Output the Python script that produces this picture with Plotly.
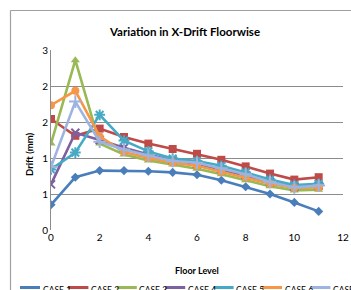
import plotly.graph_objects as go

floors = list(range(12))
case1 = [0.42, 0.88, 0.99, 0.99, 0.98, 0.96, 0.92, 0.83, 0.72, 0.60, 0.46, 0.31]
case2 = [1.85, 1.57, 1.69, 1.55, 1.44, 1.35, 1.27, 1.17, 1.06, 0.94, 0.84, 0.88]
case3 = [1.44, 2.83, 1.44, 1.26, 1.16, 1.09, 1.02, 0.93, 0.83, 0.73, 0.66, 0.67]
case4 = [0.76, 1.62, 1.50, 1.37, 1.26, 1.16, 1.10, 1.01, 0.91, 0.80, 0.72, 0.74]
case5 = [1.01, 1.29, 1.92, 1.49, 1.31, 1.19, 1.15, 1.07, 0.96, 0.84, 0.75, 0.77]
case6 = [2.08, 2.32, 1.56, 1.30, 1.20, 1.12, 1.07, 0.97, 0.88, 0.77, 0.70, 0.71]
case7 = [1.05, 2.14, 1.47, 1.34, 1.24, 1.15, 1.12, 1.03, 0.93, 0.80, 0.71, 0.74]

names = ["CASE 1", "CASE 2", "CASE 3", "CASE 4", "CASE 5", "CASE 6", "CASE 7"]
series = [case1, case2, case3, case4, case5, case6, case7]
colors = ["#4A7EBB", "#BE4B48", "#98B954", "#7D60A0", "#46AAC5", "#F79646", "#9DB3E0"]
symbols = ["diamond", "square", "triangle-up", "x-thin-open", "asterisk-open", "circle", "cross-thin-open"]
sizes = [7, 8, 8, 8, 9, 8, 9]

y_tickvals = [0, 0.6, 1.2, 1.8, 2.4, 3.0]
y_ticktext = ["0", "1", "1", "2", "2", "3"]
x_tickvals = [0, 2, 4, 6, 8, 10, 12]

W, H = 351, 290
L, R, T, B = 51, 8, 50, 60
PW, PH = W - L - R, H - T - B


def px(x):
    return (x - L) / PW


def py(y):
    return (H - B - y) / PH


FONT = "Lato"
fig = go.Figure()
for name, vals, col, sym, sz in zip(names, series, colors, symbols, sizes):
    fig.add_trace(go.Scatter(
        x=floors, y=vals, name=name, mode="lines+markers",
        line=dict(color=col, width=2.6),
        marker=dict(symbol=sym, size=sz, color=col, line=dict(color=col, width=2 if "open" in sym else 0)),
        showlegend=False,
    ))

frame = dict(color="#A0A0A0", width=1.2)
shapes = [
    dict(type="line", xref="paper", yref="paper", x0=px(10.5), x1=px(10.5), y0=py(290), y1=py(10.5), line=frame),
    dict(type="line", xref="paper", yref="paper", x0=px(10.5), x1=px(351), y0=py(10.5), y1=py(10.5), line=frame),
]
annotations = [
    dict(text="<b>Variation in X-Drift Floorwise</b>", xref="paper", yref="paper", x=px(184), y=py(32),
         showarrow=False, font=dict(family=FONT, size=11.5, color="#000"), xanchor="center", yanchor="middle"),
    dict(text="<b>Drift (mm)</b>", xref="paper", yref="paper", x=px(29), y=py(155), textangle=-90,
         showarrow=False, font=dict(family=FONT, size=9.5, color="#000"), xanchor="center", yanchor="middle"),
    dict(text="<b>Floor Level</b>", xref="paper", yref="paper", x=px(197), y=py(270),
         showarrow=False, font=dict(family=FONT, size=9, color="#000"), xanchor="center", yanchor="middle"),
]
for i, (name, col) in enumerate(zip(names, colors)):
    x0 = 20 + 48.4 * i
    shapes.append(dict(type="line", xref="paper", yref="paper", x0=px(x0), x1=px(x0 + 20), y0=py(287.5), y1=py(287.5),
                       line=dict(color=col, width=3)))
    annotations.append(dict(text=name, xref="paper", yref="paper", x=px(x0 + 20.5), y=py(283), showarrow=False,
                            xanchor="left", yanchor="top", font=dict(family=FONT, size=8.5, color="#000")))

fig.update_layout(
    width=W, height=H, margin=dict(l=L, r=R, t=T, b=B, autoexpand=False),
    paper_bgcolor="white", plot_bgcolor="white",
    font=dict(family=FONT, color="#000"),
    xaxis=dict(range=[0, 12], tickvals=x_tickvals, showgrid=False, zeroline=False, showline=False,
               ticks="", tickfont=dict(size=10, family=FONT, color="#000"), automargin=False),
    yaxis=dict(range=[0, 3], tickvals=y_tickvals, ticktext=y_ticktext, showgrid=True, gridcolor="#8C8C8C",
               gridwidth=1, zeroline=False, showline=True, linecolor="#8C8C8C", linewidth=1, ticks="",
               tickfont=dict(size=10, family=FONT, color="#000"), automargin=False),
    shapes=shapes, annotations=annotations,
)
fig.write_html("out.html", config={"displayModeBar": False},
               post_script="document.body.style.margin='0';document.body.style.overflow='hidden';")
